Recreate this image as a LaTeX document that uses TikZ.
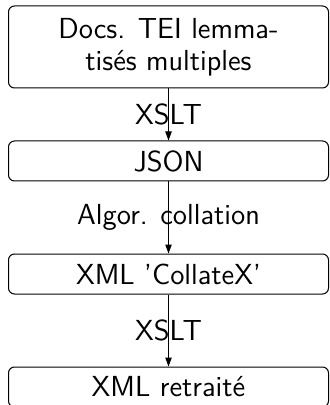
\documentclass[tikz,border=0pt]{standalone}
\usepackage{tikz}
\usetikzlibrary{arrows.meta}
\tikzset{
  etape/.style={draw, rounded corners=3pt, minimum width=160pt, minimum height=20pt, align=center, inner sep=0pt},
  fleche/.style={-{Triangle[length=4.5pt, width=3.2pt]}},
}

\begin{document}
\begin{tikzpicture}[x=0.5pt, y=-0.5pt, line width=0.5pt, font=\fontsize{14.5}{16}\selectfont\sffamily]
  \useasboundingbox (0,0) rectangle (330,405);
  % etapes
  \node[etape, minimum height=41pt] (docs) at (168.5, 47) {Docs. TEI lemma-\\tisés multiples};
  \node[etape] (json) at (168.5, 161) {JSON};
  \node[etape] (collatex) at (168.5, 274) {XML 'CollateX'};
  \node[etape] (retraite) at (168.5, 387) {XML retraité};
  % transformations
  \draw[fleche] (docs) -- node {XSLT} (json);
  \draw[fleche] (json) -- node {Algor. collation} (collatex);
  \draw[fleche] (collatex) -- node {XSLT} (retraite);
\end{tikzpicture}
\end{document}
